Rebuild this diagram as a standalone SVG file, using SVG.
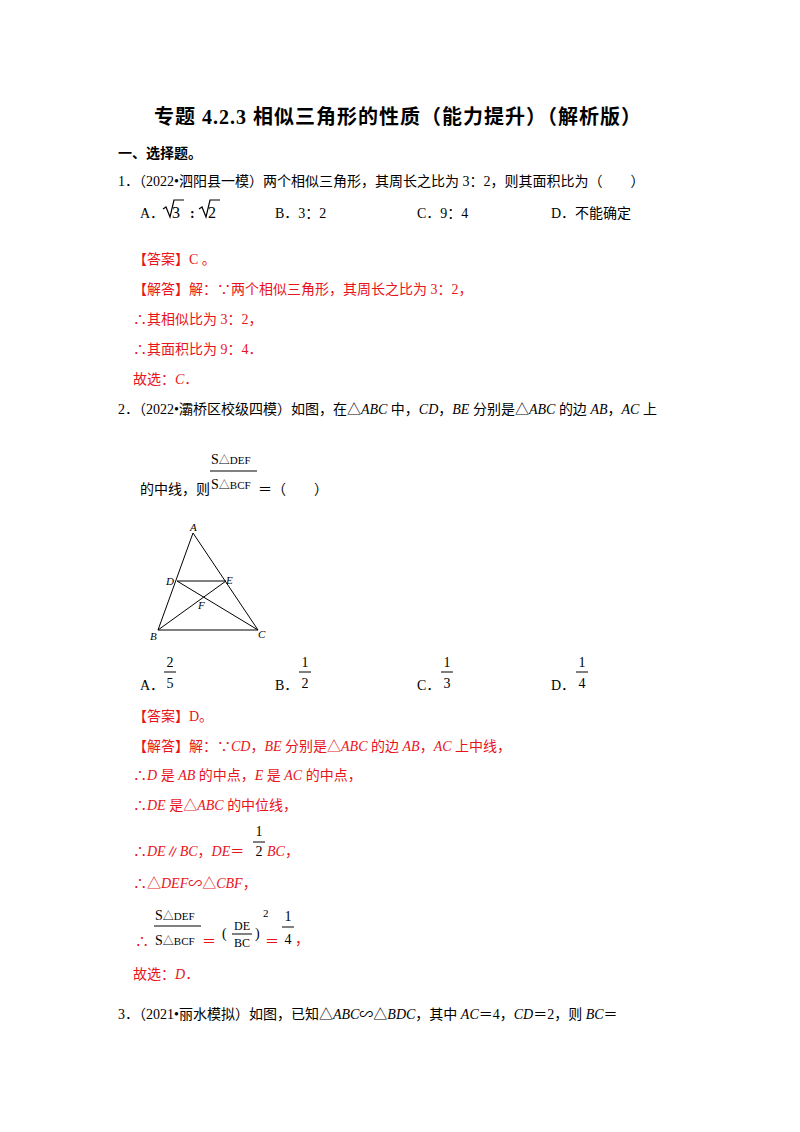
<svg xmlns="http://www.w3.org/2000/svg" width="800" height="1132" viewBox="0 0 800 1132">
<style>
text{font-family:"Liberation Serif","Noto Sans CJK SC",serif;font-size:14px;fill:#000}
.r{fill:#e8141b}
.b{font-weight:bold}
.i{font-style:italic}
.s{font-size:11px}
.fl{stroke:#000;stroke-width:1}
.t{stroke:#000;stroke-width:1.2;fill:none}
</style>
<rect width="800" height="1132" fill="#fff"/>
<text x="398" y="124" text-anchor="middle" class="b" style="font-size:20px;letter-spacing:1px">专题 4.2.3  相似三角形的性质（能力提升）（解析版）</text>
<text x="118" y="158" class="b">一、选择题。</text>
<text x="118" y="186">1．（2022•泗阳县一模）两个相似三角形，其周长之比为 3：2，则其面积比为（　　）</text>
<text x="140" y="218">A．</text>
<path class="t" d="M163 209l3 -2 4 10 4 -17h10" />
<text x="172" y="218" style="font-size:16px">3</text>
<text x="190" y="218" class="b">:</text>
<path class="t" d="M199 209l3 -2 4 10 4 -17h10"/>
<text x="208" y="218" style="font-size:16px">2</text>
<text x="275" y="218">B．3：2</text>
<text x="417" y="218">C．9：4</text>
<text x="551" y="218">D．不能确定</text>
<g class="r">
<text x="133" y="264" class="r">【答案】C 。</text>
<text x="133" y="294" class="r">【解答】解：∵两个相似三角形，其周长之比为 3：2，</text>
<text x="133" y="324" class="r">∴其相似比为 3：2，</text>
<text x="133" y="354" class="r">∴其面积比为 9：4．</text>
<text x="133" y="384" class="r">故选：<tspan class="i">C</tspan>．</text>
</g>
<text x="118" y="414">2．（2022•灞桥区校级四模）如图，在△<tspan class="i">ABC</tspan> 中，<tspan class="i">CD</tspan>，<tspan class="i">BE</tspan> 分别是△<tspan class="i">ABC</tspan> 的边 <tspan class="i">AB</tspan>，<tspan class="i">AC</tspan> 上</text>
<text x="211" y="464">S<tspan class="s">△DEF</tspan></text>
<line class="fl" x1="210" y1="471" x2="257" y2="471"/>
<text x="211" y="489">S<tspan class="s">△BCF</tspan></text>
<text x="140" y="494">的中线，则</text>
<text x="258" y="494">＝（　　）</text>
<g id="figure">
<path class="t" d="M193 533L158 630H258Z M177 581H226 M177 581L258 630 M226 581L158 630" style="stroke-width:1"/>
<text x="190" y="531" class="i s">A</text>
<text x="166" y="585" class="i s">D</text>
<text x="226" y="584" class="i s">E</text>
<text x="198" y="609" class="i s">F</text>
<text x="150" y="640" class="i s">B</text>
<text x="258" y="638" class="i s">C</text>
</g>
<text x="140" y="690">A．</text>
<text x="170" y="667" text-anchor="middle">2</text><line class="fl" x1="164" y1="672" x2="176" y2="672"/><text x="170" y="688" text-anchor="middle">5</text>
<text x="275" y="690">B．</text>
<text x="305" y="667" text-anchor="middle">1</text><line class="fl" x1="299" y1="672" x2="311" y2="672"/><text x="305" y="688" text-anchor="middle">2</text>
<text x="417" y="690">C．</text>
<text x="447" y="667" text-anchor="middle">1</text><line class="fl" x1="441" y1="672" x2="453" y2="672"/><text x="447" y="688" text-anchor="middle">3</text>
<text x="551" y="690">D．</text>
<text x="582" y="667" text-anchor="middle">1</text><line class="fl" x1="576" y1="672" x2="588" y2="672"/><text x="582" y="688" text-anchor="middle">4</text>
<text x="133" y="721" class="r">【答案】D。</text>
<text x="133" y="751" class="r">【解答】解：∵<tspan class="i">CD</tspan>，<tspan class="i">BE</tspan> 分别是△<tspan class="i">ABC</tspan> 的边 <tspan class="i">AB</tspan>，<tspan class="i">AC</tspan> 上中线，</text>
<text x="133" y="780" class="r">∴<tspan class="i">D</tspan> 是 <tspan class="i">AB</tspan> 的中点，<tspan class="i">E</tspan> 是 <tspan class="i">AC</tspan> 的中点，</text>
<text x="133" y="810" class="r">∴<tspan class="i">DE</tspan> 是△<tspan class="i">ABC</tspan> 的中位线，</text>
<text x="133" y="856" class="r">∴<tspan class="i">DE</tspan>∥<tspan class="i">BC</tspan>，<tspan class="i">DE</tspan>＝</text>
<text x="259" y="836" text-anchor="middle">1</text><line class="fl" x1="253" y1="842" x2="265" y2="842"/><text x="259" y="856" text-anchor="middle">2</text>
<text x="267" y="856" class="r i">BC<tspan style="font-style:normal">，</tspan></text>
<text x="133" y="888" class="r">∴△<tspan class="i">DEF</tspan>∽△<tspan class="i">CBF</tspan>，</text>
<text x="155" y="920">S<tspan class="s">△DEF</tspan></text>
<line class="fl" x1="154" y1="926" x2="201" y2="926"/>
<text x="155" y="945">S<tspan class="s">△BCF</tspan></text>
<text x="135" y="946" class="r">∴</text>
<text x="202" y="946" class="r">＝</text>
<text x="222" y="938">(</text>
<text x="242" y="930" text-anchor="middle" class="s" style="font-size:12px">DE</text>
<line class="fl" x1="232" y1="934" x2="252" y2="934"/>
<text x="242" y="947" text-anchor="middle" style="font-size:12px">BC</text>
<text x="255" y="938">)</text>
<text x="263" y="917" class="s">2</text>
<text x="265" y="946" class="r">＝</text>
<text x="288" y="921" text-anchor="middle">1</text><line class="fl" x1="282" y1="927" x2="294" y2="927"/><text x="288" y="944" text-anchor="middle">4</text>
<text x="295" y="944" class="r">，</text>
<text x="133" y="979" class="r">故选：<tspan class="i">D</tspan>．</text>
<text x="118" y="1019">3．（2021•丽水模拟）如图，已知△<tspan class="i">ABC</tspan>∽△<tspan class="i">BDC</tspan>，其中 <tspan class="i">AC</tspan>＝4，<tspan class="i">CD</tspan>＝2，则 <tspan class="i">BC</tspan>＝</text>
</svg>
